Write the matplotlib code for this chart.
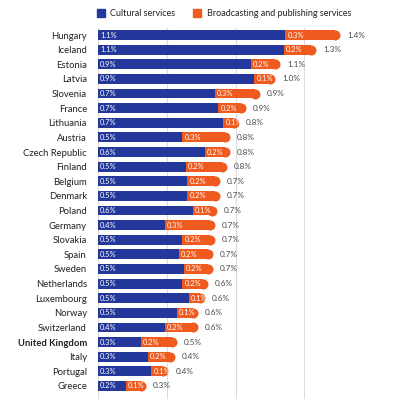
import matplotlib
matplotlib.use('Agg')
import matplotlib.pyplot as plt
from matplotlib.patches import Rectangle

plt.rcParams['font.family'] = ['Lato', 'DejaVu Sans']

## data (share of GDP, %)
countries = ['Hungary', 'Iceland', 'Estonia', 'Latvia', 'Slovenia', 'France',
             'Lithuania', 'Austria', 'Czech Republic', 'Finland', 'Belgium',
             'Denmark', 'Poland', 'Germany', 'Slovakia', 'Spain', 'Sweden',
             'Netherlands', 'Luxembourg', 'Norway', 'Switzerland',
             'United Kingdom', 'Italy', 'Portugal', 'Greece']
cultural = [1.09, 1.08, 0.89, 0.91, 0.68, 0.70, 0.73, 0.49, 0.62, 0.51, 0.52,
            0.52, 0.55, 0.39, 0.49, 0.47, 0.50, 0.49, 0.53, 0.46, 0.39,
            0.25, 0.29, 0.31, 0.16]
broadcasting = [0.32, 0.19, 0.17, 0.12, 0.26, 0.16, 0.09, 0.28, 0.15, 0.24,
                0.19, 0.19, 0.14, 0.29, 0.19, 0.20, 0.17, 0.15, 0.09, 0.12,
                0.19, 0.21, 0.16, 0.10, 0.12]
cultural_lbl = ['1.1%', '1.1%', '0.9%', '0.9%', '0.7%', '0.7%', '0.7%', '0.5%',
                '0.6%', '0.5%', '0.5%', '0.5%', '0.6%', '0.4%', '0.5%', '0.5%',
                '0.5%', '0.5%', '0.5%', '0.5%', '0.4%', '0.3%', '0.3%', '0.3%',
                '0.2%']
broadcasting_lbl = ['0.3%', '0.2%', '0.2%', '0.1%', '0.3%', '0.2%', '0.1%',
                    '0.3%', '0.2%', '0.2%', '0.2%', '0.2%', '0.1%', '0.3%',
                    '0.2%', '0.2%', '0.2%', '0.2%', '0.1%', '0.1%', '0.2%',
                    '0.2%', '0.2%', '0.1%', '0.1%']
total_lbl = ['1.4%', '1.3%', '1.1%', '1.0%', '0.9%', '0.9%', '0.8%', '0.8%',
             '0.8%', '0.8%', '0.7%', '0.7%', '0.7%', '0.7%', '0.7%', '0.7%',
             '0.7%', '0.6%', '0.6%', '0.6%', '0.6%', '0.5%', '0.4%', '0.4%',
             '0.3%']
ticks = [0, 0.4, 0.8, 1.2, 1.6]

BLUE = '#24379a'
ORANGE = '#ef5b1f'

fig = plt.figure(figsize=(4, 4), dpi=100)
ax = fig.add_axes([98/400, 1 - 399/400, (373 - 98)/400, (399 - 28)/400])

n = len(countries)
ypos = list(range(n))
h = 0.68
r = 5 / 171.7  # radius of the rounded end, in data units

ax.barh(ypos, cultural, height=h, color=BLUE, zorder=3)
for i in range(n):
    t = cultural[i] + broadcasting[i]
    ax.barh(i, broadcasting[i] - r, left=cultural[i], height=h,
            color=ORANGE, zorder=3)
    ax.plot([t - r], [i], marker='o', markersize=7.2, color=ORANGE,
            markeredgewidth=0, zorder=3)
    ax.text(0.012, i, cultural_lbl[i], color='white',
            fontsize=5.4, va='center', ha='left', zorder=4)
    ax.text(cultural[i] + 0.012, i, broadcasting_lbl[i], color='white',
            fontsize=5.4, va='center', ha='left', zorder=4)
    ax.text(t + 0.04, i, total_lbl[i], color='#4a4a4a', fontsize=5.9,
            va='center', ha='left')

ax.set_xlim(0, 1.6)
ax.set_ylim(n - 1 + 0.89, -0.48)
ax.set_xticks(ticks)
ax.xaxis.grid(True, color='#dcdcdc', linewidth=0.8, zorder=0)
ax.axvline(0, color='#f2e0bd', linewidth=1.0, zorder=1)
ax.tick_params(axis='x', length=0, labelbottom=False)
ax.tick_params(axis='y', length=0, pad=8)
ax.set_yticks(ypos)
ax.set_yticklabels(countries, fontsize=6.8, color='#222222')
for lab in ax.get_yticklabels():
    if lab.get_text() == 'United Kingdom':
        lab.set_fontweight('bold')
for s in ax.spines.values():
    s.set_visible(False)

## legend along the top
fig.patches.append(Rectangle((97/400, 1 - 17/400), 8/400, 8/400,
                             transform=fig.transFigure, color=BLUE))
fig.text(110/400, 1 - 13/400, 'Cultural services', fontsize=6.5,
         va='center', ha='left', color='#222222')
fig.patches.append(Rectangle((193/400, 1 - 17/400), 8/400, 8/400,
                             transform=fig.transFigure, color=ORANGE))
fig.text(207/400, 1 - 13/400, 'Broadcasting and publishing services',
         fontsize=6.5, va='center', ha='left', color='#222222')

fig.savefig('out.png', dpi=100)
